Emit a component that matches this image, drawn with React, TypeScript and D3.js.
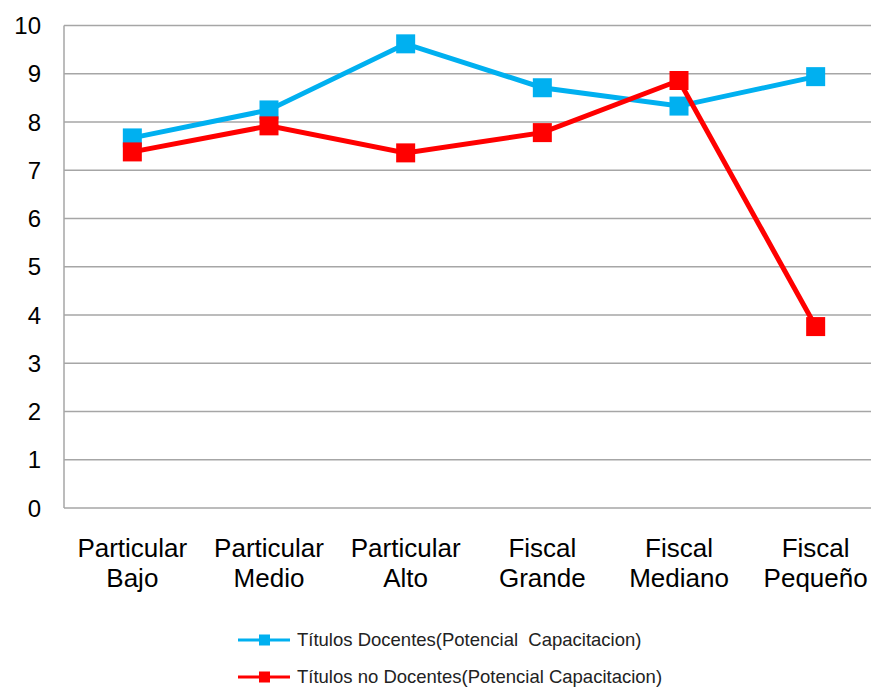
import React from "react";
import * as d3 from "d3";

const categories = [
  ["Particular", "Bajo"],
  ["Particular", "Medio"],
  ["Particular", "Alto"],
  ["Fiscal", "Grande"],
  ["Fiscal", "Mediano"],
  ["Fiscal", "Pequeño"],
];
const docentes = [7.67, 8.25, 9.62, 8.71, 8.33, 8.94];
const noDocentes = [7.38, 7.92, 7.36, 7.78, 8.86, 3.76];
const yTicks = [0, 1, 2, 3, 4, 5, 6, 7, 8, 9, 10];
const seriesNames = [
  "Títulos Docentes(Potencial  Capacitacion)",
  "Títulos no Docentes(Potencial Capacitacion)",
];
const colors = ["#00B0F0", "#FF0000"];

export default function App() {
  const W = 871, H = 689;
  const left = 64, right = 884, top = 25.5, bottom = 508;
  const x = d3.scaleBand<number>().domain(d3.range(categories.length)).range([left, right]);
  const y = d3.scaleLinear().domain([0, 10]).range([bottom, top]);
  const cx = (i: number) => (x(i) as number) + x.bandwidth() / 2;
  const line = d3.line<number>().x((_, i) => cx(i)).y((d) => y(d));
  const series = [docentes, noDocentes];
  const font = "Liberation Sans, Arial, sans-serif";
  const ms = 19;
  return (
    <svg width={W} height={H} style={{ position: "absolute", left: 0, top: 0, background: "#fff" }}>
      {yTicks.map((t) => (
        <g key={t}>
          {t > 0 && <line x1={left} x2={W} y1={y(t)} y2={y(t)} stroke="#a6a6a6" strokeWidth={1.5} />}
          <text x={41} y={y(t)} dy="0.36em" textAnchor="end" fontFamily={font} fontSize={24} fill="#000">{t}</text>
        </g>
      ))}
      <line x1={left} x2={W} y1={bottom} y2={bottom} stroke="#a6a6a6" strokeWidth={1.5} />
      <line x1={left} x2={left} y1={top} y2={bottom} stroke="#a6a6a6" strokeWidth={1.5} />
      {categories.map((c, i) => (
        <text key={i} x={cx(i)} textAnchor="middle" fontFamily={font} fontSize={26} fill="#000">
          <tspan x={cx(i)} y={557}>{c[0]}</tspan>
          <tspan x={cx(i)} y={587}>{c[1]}</tspan>
        </text>
      ))}
      {series.map((s, k) => (
        <g key={k}>
          <path d={line(s) as string} fill="none" stroke={colors[k]} strokeWidth={5} />
          {s.map((v, i) => (
            <rect key={i} x={cx(i) - ms / 2} y={y(v) - ms / 2} width={ms} height={ms} fill={colors[k]} />
          ))}
        </g>
      ))}
      {seriesNames.map((n, k) => {
        const ly = 640 + k * 37;
        return (
          <g key={k}>
            <line x1={238} x2={290} y1={ly} y2={ly} stroke={colors[k]} strokeWidth={3} />
            <rect x={259} y={ly - 5.5} width={11} height={11} fill={colors[k]} />
            <text x={297} y={ly} dy="0.35em" fontFamily={font} fontSize={18.5} fill="#222" style={{ whiteSpace: "pre" }}>{n}</text>
          </g>
        );
      })}
    </svg>
  );
}
